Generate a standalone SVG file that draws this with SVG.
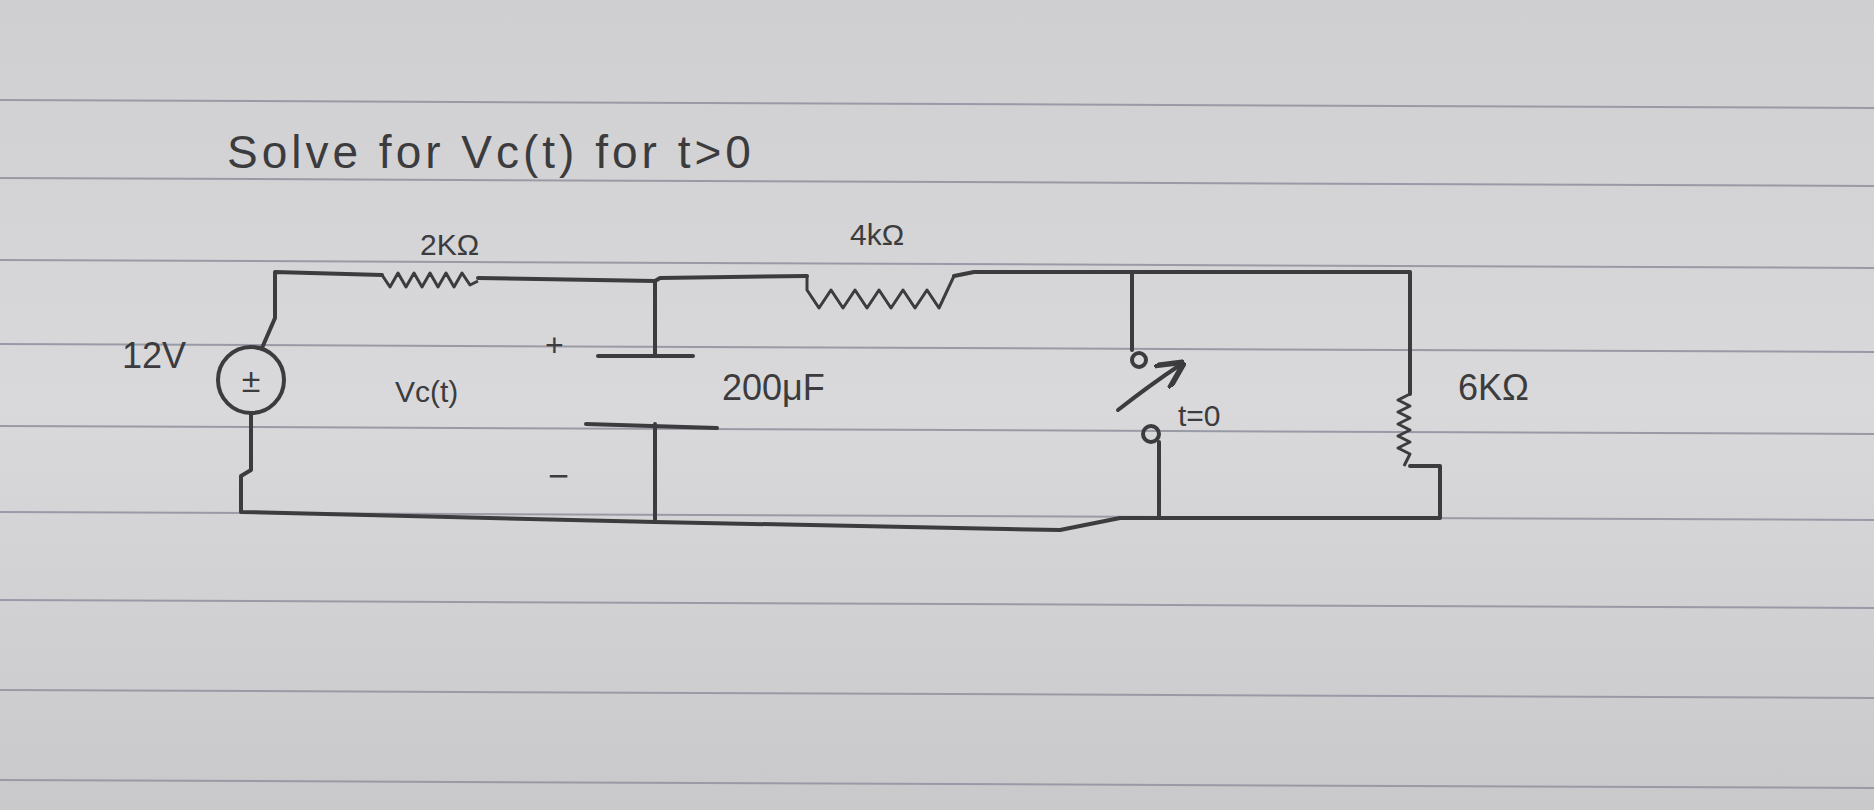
<svg xmlns="http://www.w3.org/2000/svg" width="1874" height="810" viewBox="0 0 1874 810">
<defs>
<linearGradient id="bg" x1="0" y1="0" x2="0" y2="1">
<stop offset="0" stop-color="#cfcfd1"/><stop offset="0.5" stop-color="#d9d9db"/><stop offset="1" stop-color="#c9c9cb"/>
</linearGradient>
<marker id="ah" viewBox="0 0 10 10" refX="8" refY="5" markerWidth="7" markerHeight="7" orient="auto"><path d="M0,0 L10,5 L0,10" fill="none" stroke="#3c3c3e" stroke-width="2"/></marker>
</defs>
<style>
.w{fill:none;stroke:#3c3c3e;stroke-width:4;stroke-linecap:round;stroke-linejoin:round}
.r{fill:none;stroke:#3c3c3e;stroke-width:3;stroke-linejoin:round}
.t{font-family:"Liberation Sans",sans-serif;fill:#3c3c3e}
.pl{stroke:#9a9aa6;stroke-width:2}
</style>
<rect width="1874" height="810" fill="url(#bg)"/>
<g id="paper-lines">
<line class="pl" x1="0" y1="100" x2="1874" y2="108"/>
<line class="pl" x1="0" y1="178" x2="1874" y2="186"/>
<line class="pl" x1="0" y1="260" x2="1874" y2="268"/>
<line class="pl" x1="0" y1="344" x2="1874" y2="352"/>
<line class="pl" x1="0" y1="426" x2="1874" y2="434"/>
<line class="pl" x1="0" y1="512" x2="1874" y2="520"/>
<line class="pl" x1="0" y1="600" x2="1874" y2="608"/>
<line class="pl" x1="0" y1="690" x2="1874" y2="698"/>
<line class="pl" x1="0" y1="780" x2="1874" y2="788"/>
</g>
<text class="t" x="227" y="168" font-size="46" letter-spacing="4">Solve for  Vc(t)  for   t&gt;0</text>
<g id="connectors">
<path class="w" d="M275,272 L275,318 L262,348 M275,272 L382,275"/>
<path class="w" d="M478,278 L655,281 L660,278 L807,276"/>
<path class="w" d="M954,276 L974,272 L1410,272 L1410,394"/>
<path class="w" d="M655,281 L655,356"/>
<path class="w" d="M655,424 L655,522"/>
<path class="w" d="M251,414 L251,470 L241,476 L241,512 L655,522 L1060,530 L1120,518 L1440,518 L1440,466 L1410,466"/>
<path class="w" d="M1132,274 L1132,350"/>
<path class="w" d="M1159,442 L1159,518"/>
</g>
<g id="source"><circle class="w" cx="251" cy="380" r="33"/>
<text class="t" x="251" y="392" font-size="34" text-anchor="middle">±</text>
<text class="t" x="122" y="368" font-size="36">12V</text></g>
<g id="r2k"><path class="r" d="M382,275 l8,12 8,-14 8,14 8,-14 8,14 8,-14 8,14 8,-14 8,14 8,-14 8,12 8,-4"/>
<text class="t" x="420" y="255" font-size="30">2KΩ</text></g>
<g id="r4k"><path class="r" d="M807,276 l0,14 12,18 12,-18 12,18 12,-18 12,18 12,-18 12,18 12,-18 12,18 12,-18 12,18 15,-32"/>
<text class="t" x="850" y="245" font-size="30">4kΩ</text></g>
<g id="cap">
<line class="w" x1="598" y1="356" x2="693" y2="356" stroke-width="7"/>
<line class="w" x1="586" y1="424" x2="717" y2="428" stroke-width="8"/>
<text class="t" x="545" y="356" font-size="32">+</text>
<text class="t" x="548" y="488" font-size="36">−</text>
<text class="t" x="395" y="402" font-size="30">Vc(t)</text>
<text class="t" x="722" y="400" font-size="36">200μF</text></g>
<g id="switch">
<circle class="w" cx="1139" cy="360" r="7" stroke-width="3"/>
<circle class="w" cx="1151" cy="434" r="8" stroke-width="3"/>
<path class="w" d="M1118,410 Q1150,385 1180,365" stroke-width="3" marker-end="url(#ah)"/>
<text class="t" x="1178" y="426" font-size="30">t=0</text></g>
<g id="r6k"><path class="r" d="M1410,394 l-12,6 12,6 -12,6 12,6 -12,6 12,6 -12,6 12,6 -12,6 12,6 -6,12"/>
<text class="t" x="1458" y="400" font-size="36">6KΩ</text></g>
</svg>
